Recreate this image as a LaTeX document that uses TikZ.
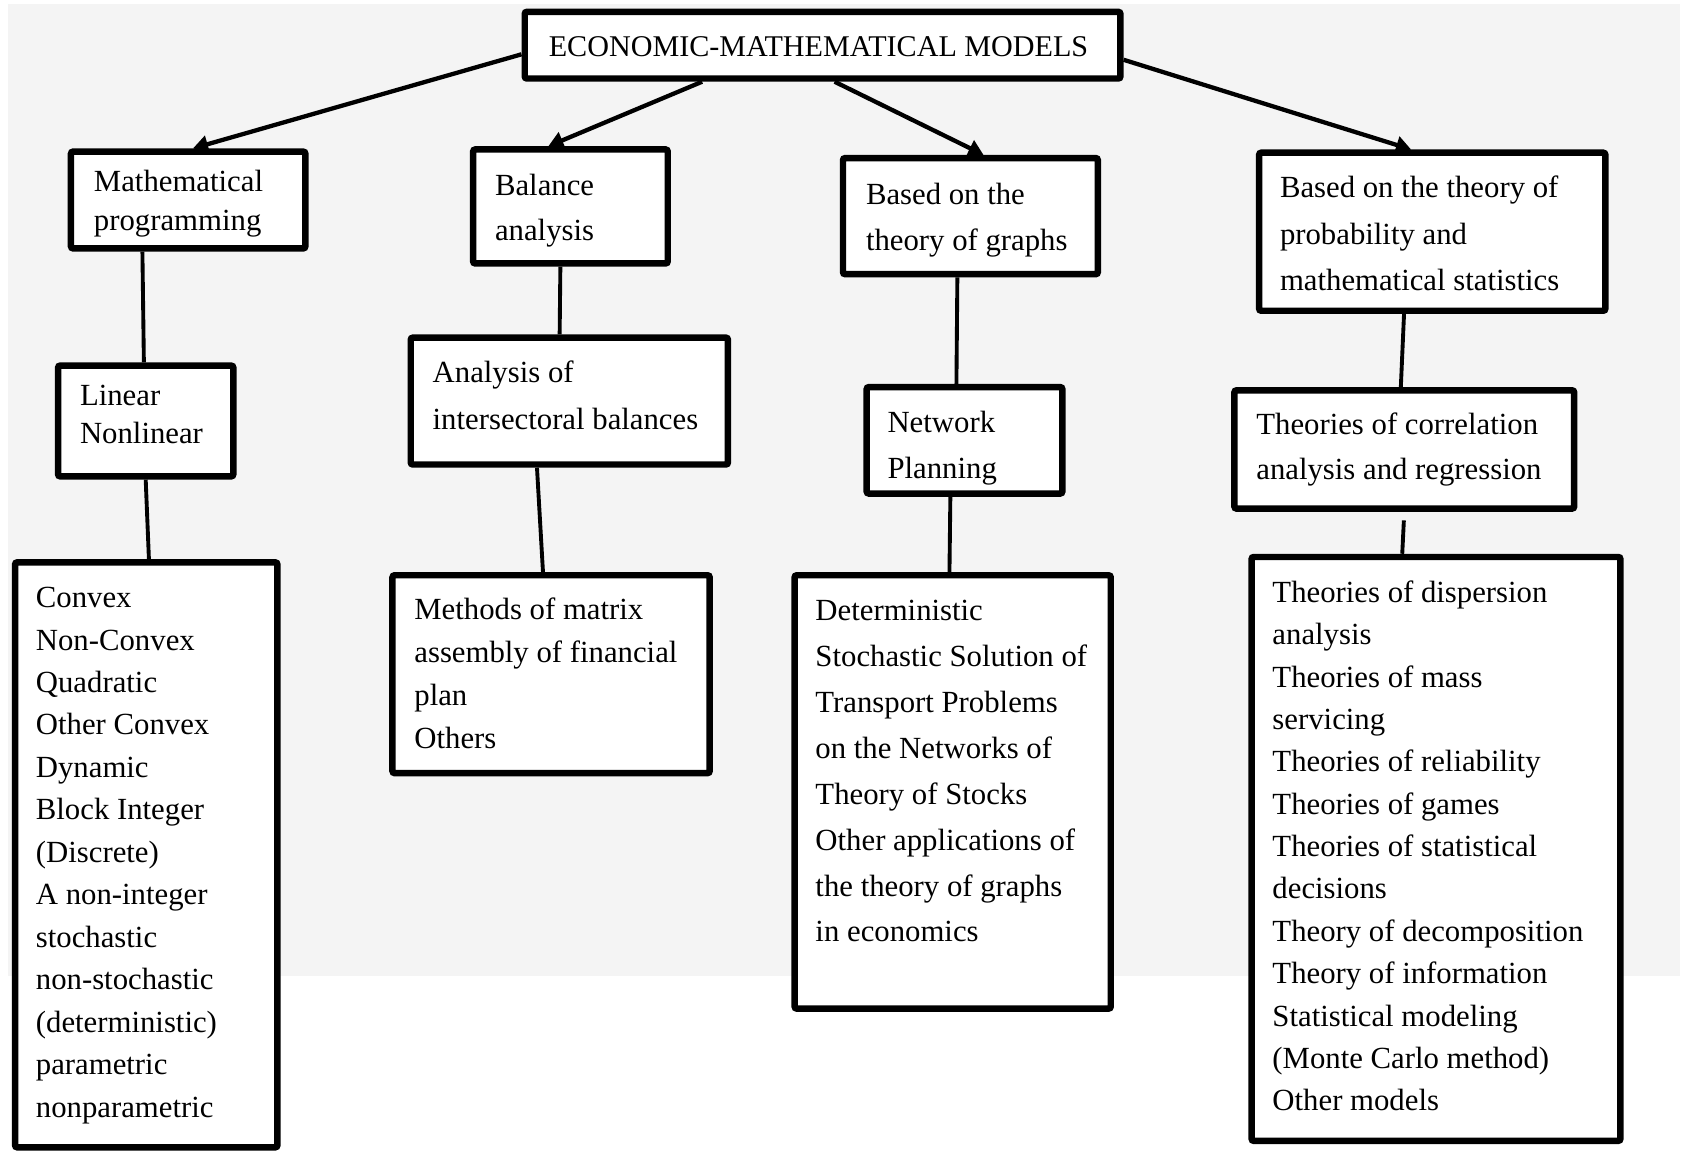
\documentclass[tikz,border=0pt]{standalone}
\usepackage{fontspec}
\setmainfont{Liberation Serif}
\usetikzlibrary{arrows.meta,calc}
\definecolor{bggray}{RGB}{244,244,244}
\tikzset{
  bx/.style={draw, line width=3pt, fill=white, rounded corners=1pt, inner sep=0pt},
  tx/.style={anchor=base west, align=left, inner sep=0pt, font={\fontsize{14.3pt}{#1}\selectfont}},
  arr/.style={line width=2pt, -{Triangle[length=7pt,width=8pt]}},
  lnk/.style={line width=1.8pt},
}
\newcommand\mybox[5]{\node[bx, minimum width={(#4-#2)*0.5pt}, minimum height={(#5-#3)*0.5pt}] (#1) at ({(#2+#4)/2},{(#3+#5)/2}) {};}
\begin{document}
\begin{tikzpicture}[x=0.5pt,y=-0.5pt]
\useasboundingbox (0,0) rectangle (1568,1071);
\fill[bggray] (7,4) rectangle (1562,908);
% boxes
\mybox{top}{488}{11}{1042}{73}
\mybox{mp}{66}{141}{284}{231}
\mybox{bal}{440}{139}{621}{245}
\mybox{gra}{784}{147}{1021}{255}
\mybox{prb}{1171}{142}{1493}{289}
\mybox{lin}{54}{340}{217}{443}
\mybox{ana}{382}{314}{677}{432}
\mybox{net}{806}{360}{988}{459}
\mybox{cor}{1148}{363}{1464}{473}
\mybox{cvx}{14}{523}{258}{1067}
\mybox{met}{365}{535}{660}{719}
\mybox{det}{739}{535}{1033}{938}
\mybox{dis}{1164}{518}{1507}{1061}
% texts (anchored at the baseline of their last line)
\node[tx=20pt, font={\fontsize{14pt}{20pt}\selectfont}] (ttop) at (510,53) {ECONOMIC-MATHEMATICAL MODELS};
\node[tx=18pt] (tmp) at (87,214) {Mathematical\\programming};
\node[tx=21pt] (tbal) at (460,224) {Balance\\analysis};
\node[tx=21.5pt] (tgra) at (805,233) {Based on the\\theory of graphs};
\node[tx=21.5pt] (tprb) at (1190,270) {Based on the theory of\\probability and\\mathematical statistics};
\node[tx=17.5pt] (tlin) at (74,412) {Linear\\Nonlinear};
\node[tx=21.5pt] (tana) at (402,399) {Analysis of\\intersectoral balances};
\node[tx=21.5pt] (tnet) at (825,445) {Network\\Planning};
\node[tx=21pt] (tcor) at (1168,446) {Theories of correlation\\analysis and regression};
\node[tx=19.75pt] (tcvx) at (33,1039) {Convex\\Non-Convex\\Quadratic\\Other Convex\\Dynamic\\Block Integer\\(Discrete)\\A non-integer\\stochastic\\non-stochastic\\(deterministic)\\parametric\\nonparametric};
\node[tx=20pt] (tmet) at (385,696) {Methods of matrix\\assembly of financial\\plan\\Others};
\node[tx=21.35pt] (tdet) at (758,876) {Deterministic\\Stochastic Solution of\\Transport Problems\\on the Networks of\\Theory of Stocks\\Other applications of\\the theory of graphs\\in economics};
\node[tx=19.7pt] (tdis) at (1183,1033) {Theories of dispersion\\analysis\\Theories of mass\\servicing\\Theories of reliability\\Theories of games\\Theories of statistical\\decisions\\Theory of decomposition\\Theory of information\\Statistical modeling\\(Monte Carlo method)\\Other models};
% arrows
\draw[arr] ($(top.north west)!0.625!(top.south west)$) -- ($(mp.north west)!0.52!(mp.north east)$);
\draw[arr] ($(top.south west)!0.30!(top.south east)$) -- ($(bal.north west)!0.39!(bal.north east)$);
\draw[arr] ($(top.south west)!0.52!(top.south east)$) -- ($(gra.north west)!0.55!(gra.north east)$);
\draw[arr] ($(top.north east)!0.70!(top.south east)$) -- ($(prb.north west)!0.44!(prb.north east)$);
% links
\draw[lnk] ($(mp.south west)!0.31!(mp.south east)$) -- ($(lin.north west)!0.49!(lin.north east)$);
\draw[lnk] ($(lin.south west)!0.50!(lin.south east)$) -- ($(cvx.north west)!0.51!(cvx.north east)$);
\draw[lnk] ($(bal.south west)!0.45!(bal.south east)$) -- ($(ana.north west)!0.47!(ana.north east)$);
\draw[lnk] ($(ana.south west)!0.40!(ana.south east)$) -- ($(met.north west)!0.475!(met.north east)$);
\draw[lnk] ($(gra.south west)!0.45!(gra.south east)$) -- ($(net.north west)!0.46!(net.north east)$);
\draw[lnk] ($(net.south west)!0.43!(net.south east)$) -- ($(det.north west)!0.49!(det.north east)$);
\draw[lnk] ($(prb.south west)!0.42!(prb.south east)$) -- ($(cor.north west)!0.49!(cor.north east)$);
\draw[lnk, shorten <=4pt] ($(cor.south west)!0.50!(cor.south east)$) -- ($(dis.north west)!0.41!(dis.north east)$);
\end{tikzpicture}
\end{document}
